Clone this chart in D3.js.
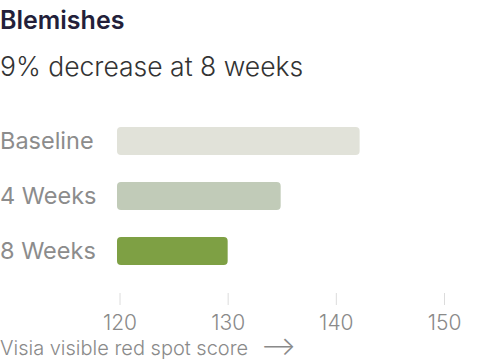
<!DOCTYPE html>
<html>
<head>
<meta charset="utf-8">
<script src="https://cdn.jsdelivr.net/npm/d3@7"></script>
<style>
  body { margin: 0; background: #fff; }
  svg { display: block; font-family: Inter, "Noto Sans", sans-serif; }
</style>
</head>
<body>
<div id="chart"></div>
<script>
var width = 500, height = 363;
var categories = ["Baseline", "4 Weeks", "8 Weeks"];
var values = [142.2, 134.9, 130.0];
var colors = ["#e1e2d9", "#c1cbb8", "#7ea044"];
var tickValues = [120, 130, 140, 150];
var title = "Blemishes";
var subtitle = "9% decrease at 8 weeks";
var axisTitle = "Visia visible red spot score";

var svg = d3.select("#chart")
  .append("svg")
  .attr("width", width)
  .attr("height", height);

// title block
svg.append("text")
  .attr("x", 0)
  .attr("y", 29)
  .attr("fill", "#231f3a")
  .attr("font-size", 25)
  .attr("font-weight", 600)
  .text(title);

svg.append("text")
  .attr("x", 0)
  .attr("y", 76)
  .attr("fill", "#333333")
  .attr("font-size", 26.5)
  .attr("font-weight", 300)
  .text(subtitle);

var x = d3.scaleLinear()
  .domain([120, 150])
  .range([119.5, 444]);

var y = d3.scaleBand()
  .domain(categories)
  .range([127, 265])
  .paddingInner(0.49)
  .paddingOuter(0);

// category labels
svg.selectAll(".cat")
  .data(categories)
  .join("text")
  .attr("class", "cat")
  .attr("x", 0)
  .attr("y", function(d) { return y(d) + y.bandwidth() / 2; })
  .attr("dy", "0.36em")
  .attr("fill", "#8c8c8c")
  .attr("font-size", 23.5)
  .text(function(d) { return d; });

// bars, slightly bleeding left of the 120 tick like the original
svg.selectAll(".bar")
  .data(values)
  .join("rect")
  .attr("class", "bar")
  .attr("x", x(120) - 2.5)
  .attr("y", function(d, i) { return y(categories[i]); })
  .attr("width", function(d) { return x(d) - x(120) + 2.5; })
  .attr("height", y.bandwidth())
  .attr("rx", 4)
  .attr("fill", function(d, i) { return colors[i]; });

// bottom axis
var axis = svg.append("g")
  .attr("transform", "translate(0,293)")
  .call(d3.axisBottom(x).tickValues(tickValues).tickSize(12).tickPadding(10));
axis.select(".domain").remove();
axis.selectAll(".tick line").attr("stroke", "#dcdcdc");
axis.selectAll(".tick text")
  .attr("fill", "#8a8a8a")
  .attr("font-family", "Inter, sans-serif")
  .attr("font-weight", 300)
  .attr("font-size", 21);

svg.append("text")
  .attr("x", 0)
  .attr("y", 355)
  .attr("fill", "#8a8a8a")
  .attr("font-size", 20)
  .attr("font-weight", 300)
  .text(axisTitle);

svg.append("text")
  .attr("x", 261)
  .attr("y", 355)
  .attr("fill", "#8a8a8a")
  .attr("font-size", 26)
  .attr("font-weight", 300)
  .text("\u27F6");
</script>
</body>
</html>
